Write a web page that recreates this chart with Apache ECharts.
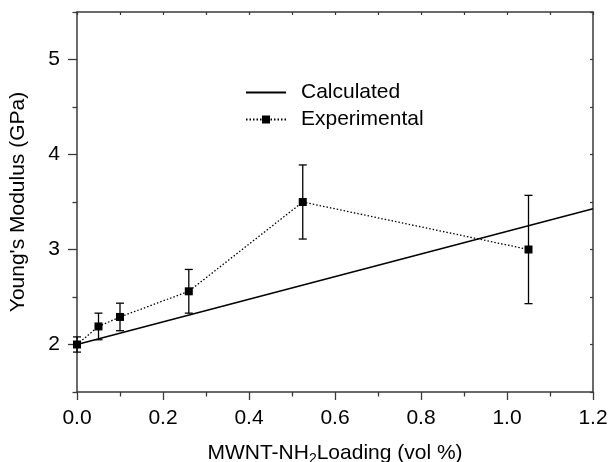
<!DOCTYPE html>
<html><head><meta charset="utf-8">
<script src="https://cdn.jsdelivr.net/npm/echarts@6/dist/echarts.min.js"></script>
<style>html,body{margin:0;padding:0;background:#fff}#c{width:609px;height:462px}</style>
</head><body><div id="c"></div>
<script>
const expX = [0, 0.05, 0.10, 0.26, 0.525, 1.05];
const expY = [2.0, 2.19, 2.29, 2.56, 3.50, 3.00];
const expErr = [0.08, 0.14, 0.145, 0.23, 0.39, 0.57];
const calcX = [0, 1.2];
const calcY = [2.0, 3.43];
const yTickLabels = [2, 3, 4, 5];
const yMinorTicks = [1.5, 2.5, 3.5, 4.5, 5.5];
const seriesNames = ['Calculated', 'Experimental'];

const FONT = 'Liberation Sans, Arial, sans-serif';
const AX = '#3a3a3a';
const chart = echarts.init(document.getElementById('c'));
const expData = expX.map((x, i) => [x, expY[i]]);
const errData = expX.map((x, i) => [x, expY[i] - expErr[i], expY[i] + expErr[i]]);
const calcData = calcX.map((x, i) => [x, calcY[i]]);

chart.setOption({
  animation: false,
  textStyle: { fontFamily: FONT },
  grid: { left: 77, right: 16, top: 12, bottom: 70, outerBoundsMode: 'none', containLabel: false },
  legend: {
    data: [
      { name: seriesNames[0], itemStyle: { color: 'transparent', borderWidth: 0 } },
      { name: seriesNames[1] }
    ],
    orient: 'vertical',
    left: 240, top: 77,
    itemWidth: 40, itemHeight: 10, itemGap: 6,
    textStyle: { fontSize: 21, fontFamily: FONT, color: '#000', padding: [0, 0, 0, 10], lineHeight: 21 }
  },
  xAxis: [{
    type: 'value', min: 0, max: 1.2, interval: 0.2, position: 'bottom',
    axisLine: { lineStyle: { color: AX, width: 1.5 } },
    axisTick: { length: 8, lineStyle: { color: AX, width: 1.3 } },
    minorTick: { show: true, splitNumber: 2, length: 4.5, lineStyle: { color: AX, width: 1.3 } },
    splitLine: { show: false },
    axisLabel: { fontSize: 21, color: '#000', margin: 16, fontFamily: FONT, formatter: v => v.toFixed(1) },
    name: '{a|MWNT-NH}{b|2}{a|Loading (vol %)}',
    nameLocation: 'middle', nameGap: 48,
    nameTextStyle: { rich: {
      a: { fontSize: 21, color: '#000', fontFamily: FONT },
      b: { fontSize: 14, color: '#000', fontFamily: FONT, padding: [12, 0, 0, 0] }
    } }
  }, {
    type: 'value', min: 0, max: 1.2, interval: 0.1, position: 'top',
    axisLine: { lineStyle: { color: AX, width: 1.5 } },
    axisTick: { inside: true, length: 3, lineStyle: { color: AX, width: 1.2 } },
    axisLabel: { show: false }, splitLine: { show: false }
  }],
  yAxis: [{
    type: 'value', min: 1.5, max: 5.5, position: 'left',
    axisLine: { show: true, lineStyle: { color: AX, width: 1.5 } },
    axisTick: { show: true, length: 9, customValues: yTickLabels, lineStyle: { color: AX, width: 1.3 } },
    axisLabel: { fontSize: 21, color: '#000', margin: 17, fontFamily: FONT, customValues: yTickLabels },
    splitLine: { show: false },
    name: "Young's Modulus (GPa)", nameLocation: 'middle', nameGap: 48,
    nameTextStyle: { fontSize: 21, color: '#000', fontFamily: FONT }
  }, {
    type: 'value', min: 1.5, max: 5.5, position: 'left',
    axisLine: { show: false },
    axisTick: { show: true, length: 4.5, customValues: yMinorTicks, lineStyle: { color: AX, width: 1.3 } },
    axisLabel: { show: false }, splitLine: { show: false }
  }, {
    type: 'value', min: 1.5, max: 5.5, interval: 0.5, position: 'right',
    axisLine: { show: true, lineStyle: { color: AX, width: 1.5 } },
    axisTick: { show: true, inside: true, length: 3, lineStyle: { color: AX, width: 1.2 } },
    axisLabel: { show: false }, splitLine: { show: false }
  }],
  series: [{
    name: 'Calculated', type: 'line', data: calcData, symbol: 'none',
    lineStyle: { color: '#000', width: 1.5 }, itemStyle: { color: '#000' }
  }, {
    name: 'Experimental', type: 'line', data: expData,
    symbol: 'rect', symbolSize: 8,
    lineStyle: { color: '#000', width: 1.3, type: [1.5, 2] }, itemStyle: { color: '#000' }, z: 4
  }, {
    name: 'err', type: 'custom', data: errData, z: 3,
    renderItem: (params, api) => {
      const x = api.value(0);
      const lo = api.coord([x, api.value(1)]);
      const hi = api.coord([x, api.value(2)]);
      const w = 4;
      const st = { stroke: '#000', lineWidth: 1.3 };
      return { type: 'group', children: [
        { type: 'line', shape: { x1: lo[0], y1: lo[1], x2: hi[0], y2: hi[1] }, style: st },
        { type: 'line', shape: { x1: lo[0] - w, y1: lo[1], x2: lo[0] + w, y2: lo[1] }, style: st },
        { type: 'line', shape: { x1: hi[0] - w, y1: hi[1], x2: hi[0] + w, y2: hi[1] }, style: st }
      ] };
    }
  }]
});
</script></body></html>
